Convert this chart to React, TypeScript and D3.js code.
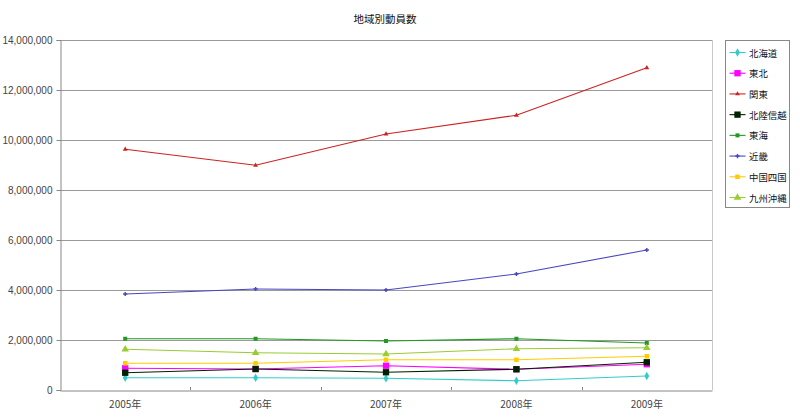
import React, { useRef, useEffect } from 'react';
import * as d3 from 'd3';

const years = ['2005年', '2006年', '2007年', '2008年', '2009年'];
const regions = ['北海道', '東北', '関東', '北陸信越', '東海', '近畿', '中国四国', '九州沖縄'];

const hokkaido = [490000, 490000, 470000, 370000, 560000];
const tohoku = [870000, 840000, 970000, 830000, 1030000];
const kanto = [9630000, 8990000, 10240000, 10990000, 12890000];
const hokurikuShinetsu = [690000, 840000, 710000, 830000, 1110000];
const tokai = [2050000, 2050000, 1960000, 2050000, 1880000];
const kinki = [3840000, 4040000, 4000000, 4640000, 5600000];
const chugokuShikoku = [1070000, 1070000, 1210000, 1210000, 1350000];
const kyushuOkinawa = [1630000, 1490000, 1440000, 1650000, 1690000];

const yTicks = [0, 2000000, 4000000, 6000000, 8000000, 10000000, 12000000, 14000000];

const seriesValues = [hokkaido, tohoku, kanto, hokurikuShinetsu, tokai, kinki, chugokuShikoku, kyushuOkinawa];
const colors = ['#33cccc', '#ff00ff', '#cc2222', '#002200', '#229922', '#4646c0', '#ffcc00', '#99cc33'];
const symbols = [d3.symbolDiamond, d3.symbolSquare, d3.symbolTriangle, d3.symbolSquare, d3.symbolSquare, d3.symbolCross, d3.symbolSquare, d3.symbolTriangle];
const symbolSizes = [20, 40, 10, 40, 16, 10, 20, 24];

export default function App() {
  const svgRef = useRef<SVGSVGElement>(null);
  const width = 800;
  const height = 417;
  const margin = { top: 40, right: 88, bottom: 27, left: 60 };

  useEffect(() => {
    if (!svgRef.current) return;
    const svg = d3.select(svgRef.current);
    svg.selectAll('*').remove();

    const innerWidth = width - margin.left - margin.right;
    const innerHeight = height - margin.top - margin.bottom;
    const g = svg.append('g').attr('transform', `translate(${margin.left},${margin.top})`);

    const x = d3.scaleBand().domain(years).range([0, innerWidth]);
    const y = d3.scaleLinear().domain([0, 14000000]).range([innerHeight, 0]);
    const fmt = d3.format(',');

    // title
    svg.append('text')
      .attr('x', 385)
      .attr('y', 23)
      .attr('text-anchor', 'middle')
      .attr('font-family', '"Noto Sans CJK JP", sans-serif')
      .attr('font-size', 10.5)
      .attr('fill', '#111')
      .text('地域別動員数');

    // gridlines
    g.selectAll('.grid')
      .data(yTicks.filter(t => t > 0))
      .enter()
      .append('line')
      .attr('x1', 0)
      .attr('x2', innerWidth)
      .attr('y1', d => y(d) + 0.5)
      .attr('y2', d => y(d) + 0.5)
      .attr('stroke', '#9a9a9a')
      .attr('stroke-width', 1);

    // right border
    g.append('line')
      .attr('x1', innerWidth + 0.5)
      .attr('x2', innerWidth + 0.5)
      .attr('y1', 0)
      .attr('y2', innerHeight)
      .attr('stroke', '#c8c8c8');

    // y axis
    const yAxis = g.append('g')
      .attr('transform', 'translate(0.5,0)')
      .call(d3.axisLeft(y).tickValues(yTicks).tickFormat(d => fmt(d as number)).tickSize(4));
    yAxis.select('.domain').attr('stroke', '#888');
    yAxis.selectAll('.tick line').attr('stroke', '#888');
    yAxis.selectAll('text')
      .attr('font-family', '"Liberation Sans", Arial, sans-serif')
      .attr('font-size', 10)
      .attr('fill', '#444')
      .attr('x', -8);

    // x axis
    const xAxis = g.append('g')
      .attr('transform', `translate(0,${innerHeight + 0.5})`)
      .call(d3.axisBottom(x).tickSize(0).tickPadding(10));
    xAxis.select('.domain').attr('stroke', '#888');
    xAxis.selectAll('text')
      .attr('font-family', '"Noto Sans CJK JP", sans-serif')
      .attr('font-size', 10)
      .attr('fill', '#444');
    g.selectAll('.xtick')
      .data(years.slice(1))
      .enter()
      .append('line')
      .attr('x1', d => Math.round(x(d) || 0) + 0.5)
      .attr('x2', d => Math.round(x(d) || 0) + 0.5)
      .attr('y1', innerHeight)
      .attr('y2', innerHeight - 3)
      .attr('stroke', '#888');

    const cx = (i: number) => (x(years[i]) || 0) + x.bandwidth() / 2;

    seriesValues.forEach((vals, si) => {
      const line = d3.line<number>()
        .x((_, i) => cx(i))
        .y(d => y(d));
      g.append('path')
        .datum(vals)
        .attr('fill', 'none')
        .attr('stroke', colors[si])
        .attr('stroke-width', 1.1)
        .attr('d', line);
      const sym = d3.symbol().type(symbols[si]).size(symbolSizes[si]);
      g.selectAll(`.pt${si}`)
        .data(vals)
        .enter()
        .append('path')
        .attr('d', sym)
        .attr('transform', (d, i) => `translate(${cx(i)},${y(d)})`)
        .attr('fill', colors[si]);
    });

    // legend
    const legend = svg.append('g').attr('transform', 'translate(725.5,40.5)');
    legend.append('rect')
      .attr('width', 64)
      .attr('height', 167)
      .attr('fill', '#fff')
      .attr('stroke', '#888');
    const ly = d3.scalePoint().domain(regions).range([12, 157]);
    regions.forEach((name, si) => {
      const yy = ly(name) || 0;
      legend.append('line')
        .attr('x1', 4)
        .attr('x2', 20)
        .attr('y1', yy)
        .attr('y2', yy)
        .attr('stroke', colors[si])
        .attr('stroke-width', 1.1);
      legend.append('path')
        .attr('d', d3.symbol().type(symbols[si]).size(symbolSizes[si])())
        .attr('transform', `translate(12,${yy})`)
        .attr('fill', colors[si]);
      legend.append('text')
        .attr('x', 23.5)
        .attr('y', yy + 4)
        .attr('font-family', '"Noto Sans CJK JP", sans-serif')
        .attr('font-size', 9.4)
        .attr('fill', '#111')
        .text(name);
    });
  }, []);

  return (
    <div style={{ position: 'absolute', left: 0, top: 0, width, height, background: '#fff' }}>
      <svg ref={svgRef} width={width} height={height} style={{ display: 'block' }} />
    </div>
  );
}
